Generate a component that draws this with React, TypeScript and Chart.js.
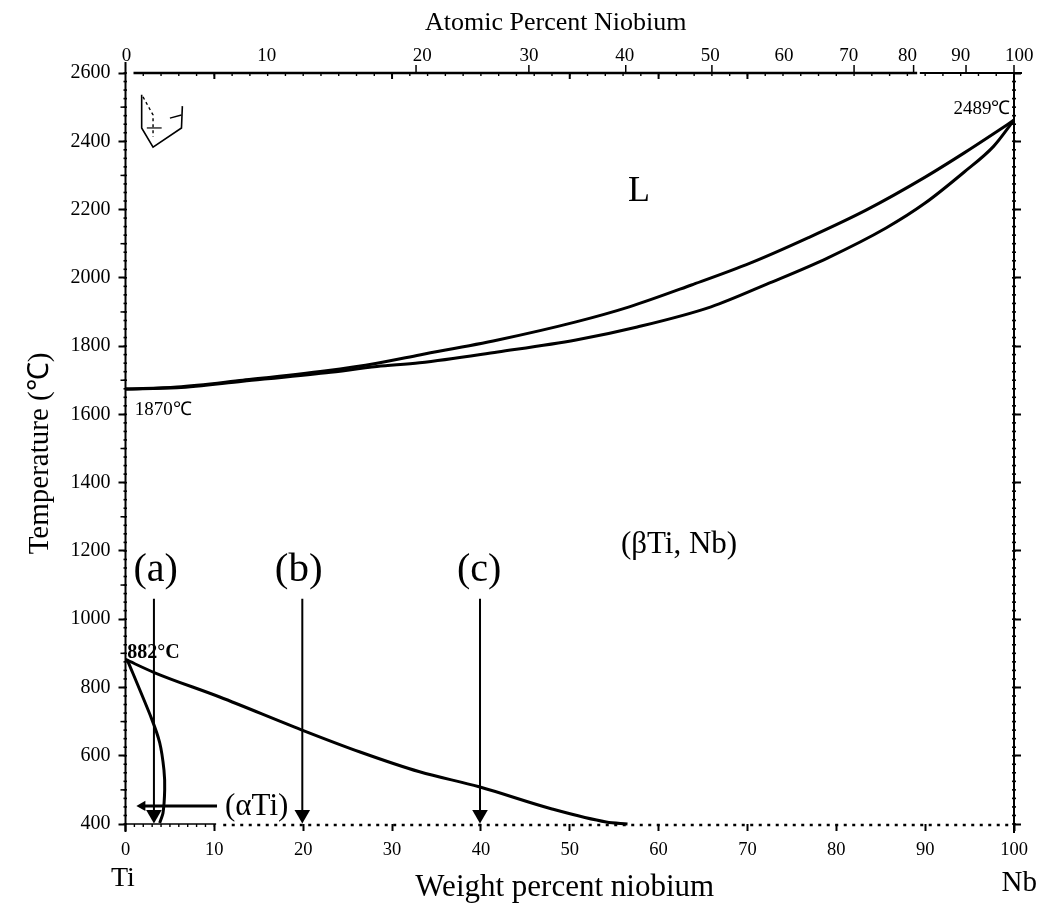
import React, { useEffect, useRef } from "react";
import { Chart, registerables } from "chart.js";

Chart.register(...registerables);

const SERIF = '"Liberation Serif", serif';

// ---- data (x = weight % Nb, y = temperature in deg C) ----
const liquidusX = [0, 5.8, 13.2, 22.6, 28.3, 33.1, 41.9, 50.7, 56.7, 63.7, 70.3, 76.8, 83.4, 90, 94.4, 97.7, 100];
const liquidusY = [1674, 1680, 1700, 1728, 1750, 1774, 1818, 1871, 1915, 1979, 2043, 2117, 2199, 2295, 2366, 2422, 2462];
const solidusX = [0, 5.8, 13.2, 22.6, 28.3, 33.1, 41.9, 50.7, 57.6, 65.9, 72.5, 79, 85.6, 90, 94.4, 97.7, 100];
const solidusY = [1674, 1678, 1697, 1722, 1740, 1751, 1783, 1818, 1856, 1915, 1985, 2058, 2146, 2219, 2310, 2385, 2462];
const betaSolvusX = [0, 3.3, 10.6, 19.8, 26.4, 33.1, 39.8, 48, 54.1, 56.5];
const betaSolvusY = [882, 843, 772, 676, 611, 553, 509, 444, 406, 400];
const alphaSolvusX = [0.2, 2.9, 3.85, 4.33, 4.41, 4.22, 3.85];
const alphaSolvusY = [881, 711, 638, 558, 500, 432, 403];

const arrowAX = [3.2, 3.2];
const arrowBX = [19.9, 19.9];
const arrowCX = [39.9, 39.9];
const arrowY = [1060, 428];
const alphaArrowX = [10.3, 1.9];
const alphaArrowY = [453, 453];

const iconOutlineX = [1.82, 1.82, 3.1, 6.3, 6.4];
const iconOutlineY = [2536, 2439, 2383, 2439, 2503];
const iconDashX = [1.97, 3.1, 3.1];
const iconDashY = [2530, 2477, 2413];
const iconCrossX = [2.4, 4.07];
const iconCrossY = [2439, 2439];
const iconMarkX = [5, 6.3];
const iconMarkY = [2468, 2477];

// ---- axes ----
const atomicLabels = ["0", "10", "20", "30", "40", "50", "60", "70", "80", "90", "100"];
const atomicLabelAtWeight = [0.1, 15.9, 33.4, 45.4, 56.2, 65.8, 74.1, 81.4, 88, 94, 100.6];
const atomicTickAtWeight = [32.7, 45.4, 56.3, 66, 82, 88.7, 94.6, 100];
const topInnerTicks = [10, 30, 50, 60, 70];

const toPairs = (xs: number[], ys: number[]) => xs.map((x, i) => ({ x, y: ys[i] }));
const steps = (a: number, b: number, s: number) => {
  const out: number[] = [];
  for (let v = a; v <= b; v += s) out.push(v);
  return out;
};

const notes = [
  { text: "L", x: 57.8, y: 2254, size: 36, align: "center" },
  { text: "(βTi, Nb)", x: 62.3, y: 1217, size: 31, align: "center" },
  { text: "(a)", x: 3.4, y: 1142, size: 40, align: "center" },
  { text: "(b)", x: 19.5, y: 1142, size: 41, align: "center" },
  { text: "(c)", x: 39.8, y: 1142, size: 40, align: "center" },
  { text: "(αTi)", x: 11.2, y: 449, size: 31, align: "left" },
  { text: "2489℃", x: 99.6, y: 2495, size: 19, align: "right" },
  { text: "1870℃", x: 1.05, y: 1612, size: 19, align: "left" },
  { text: "882°C", x: 0.2, y: 900, size: 20, align: "left", weight: "bold" },
  { text: "Ti", x: -0.3, y: 240, size: 28, align: "center" },
  { text: "Nb", x: 100.6, y: 225, size: 29, align: "center" },
];

const frame = {
  id: "frame",
  afterLayout(chart: any) {
    const { x, x2, y } = chart.scales;
    x.left -= 5; x.right -= 5;
    x2.left -= 28;
    y.top += 10;
  },
  afterDraw(chart: any) {
    const { ctx, scales } = chart;
    const { x, y } = scales;
    const X = (v: number) => x.getPixelForValue(v);
    const Y = (v: number) => y.getPixelForValue(v);
    ctx.save();
    ctx.strokeStyle = "#000";
    ctx.lineCap = "butt";
    const seg = (a: number, b: number, c: number, d: number, w: number, dash: number[] = []) => {
      ctx.lineWidth = w;
      ctx.setLineDash(dash);
      ctx.beginPath();
      ctx.moveTo(a, b);
      ctx.lineTo(c, d);
      ctx.stroke();
    };
    const top = Y(2600), bot = Y(400), l = X(0), r = X(100);
    // frame
    seg(l, top - 11, l, bot + 8, 2);
    seg(r, top, r, bot + 9, 2);
    seg(X(0.9), top, X(89.1), top, 2.5);
    seg(X(89.4), top, X(100.9), top, 2);
    seg(l, bot, X(10.2), bot, 1.6);
    seg(X(11), bot + 1, r - 4, bot + 1, 2.4, [3, 5.5]);
    // top axis marks
    atomicTickAtWeight.forEach((v) => seg(X(v), top, X(v), top - 8, 1.5));
    topInnerTicks.forEach((v) => seg(X(v), top, X(v), top + 6, 2));
    steps(2, 98, 2).forEach((v) => seg(X(v), top, X(v), top + 3, 1.4));
    // left and right axis marks
    steps(400, 2600, 25).forEach((v) => {
      seg(l - 2, Y(v), l + 1.5, Y(v), 1.6);
      seg(r - 2, Y(v), r + 2, Y(v), 1.6);
    });
    steps(500, 2500, 200).forEach((v) => seg(l - 5, Y(v), l, Y(v), 1.5));
    // bottom axis marks
    steps(1, 10, 1).forEach((v) => seg(X(v), bot, X(v), bot + 3, 1.4));
    ctx.setLineDash([]);
    // notes
    ctx.fillStyle = "#000";
    ctx.textBaseline = "middle";
    notes.forEach((n) => {
      ctx.font = `${n.weight || "normal"} ${n.size}px ${SERIF}`;
      ctx.textAlign = n.align;
      ctx.fillText(n.text, X(n.x), Y(n.y));
    });
    ctx.restore();
  },
};

const curve = (label: string, xs: number[], ys: number[], width = 3, tension = 0.3) => ({
  label,
  data: toPairs(xs, ys),
  showLine: true,
  borderColor: "#000",
  backgroundColor: "#000",
  borderWidth: width,
  pointRadius: 0,
  tension,
  clip: false,
});

const smooth = (label: string, xs: number[], ys: number[]) => ({
  ...curve(label, xs, ys),
  cubicInterpolationMode: "monotone",
});

const arrow = (label: string, xs: number[], ys: number[], rotation: number, size: number, width = 2) => ({
  label,
  data: toPairs(xs, ys),
  showLine: true,
  borderColor: "#000",
  backgroundColor: "#000",
  borderWidth: width,
  pointStyle: "triangle",
  pointRotation: rotation,
  pointRadius: [0, size],
  pointBorderWidth: 0,
  clip: false,
});

const plainTick = (v: any) => String(v);

export default function App() {
  const ref = useRef<HTMLCanvasElement>(null);
  useEffect(() => {
    const chart = new Chart(ref.current!, {
      type: "scatter",
      data: {
        datasets: [
          smooth("Liquidus", liquidusX, liquidusY),
          smooth("Solidus", solidusX, solidusY),
          smooth("β solvus", betaSolvusX, betaSolvusY),
          curve("α solvus", alphaSolvusX, alphaSolvusY, 3, 0.2),
          arrow("Arrow a", arrowAX, arrowY, 180, 9),
          arrow("Arrow b", arrowBX, arrowY, 180, 9),
          arrow("Arrow c", arrowCX, arrowY, 180, 9),
          arrow("Arrow αTi", alphaArrowX, alphaArrowY, -90, 6, 3),
          curve("Icon outline", iconOutlineX, iconOutlineY, 1.6, 0),
          { ...curve("Icon dash", iconDashX, iconDashY, 1.4, 0), borderDash: [3, 3] },
          curve("Icon cross", iconCrossX, iconCrossY, 1.2, 0),
          curve("Icon mark", iconMarkX, iconMarkY, 1.4, 0),
        ],
      },
      options: {
        animation: false,
        responsive: false,
        layout: { padding: 0 },
        plugins: { legend: { display: false }, tooltip: { enabled: false } },
        scales: {
          x: {
            type: "linear",
            position: "bottom",
            min: 0,
            max: 100,
            border: { display: false },
            grid: { drawOnChartArea: false, tickLength: 7, tickColor: "#000", tickWidth: 2 },
            ticks: { stepSize: 10, color: "#000", font: { family: SERIF, size: 18.5 }, padding: 8, maxRotation: 0, autoSkip: false, callback: plainTick },
            title: { display: true, text: "Weight percent niobium", color: "#000", font: { family: SERIF, size: 31 }, padding: { top: 0, bottom: 1 } },
            afterFit: (s: any) => { s.height = 83; },
          },
          x2: {
            type: "linear",
            axis: "x",
            position: "top",
            min: 0,
            max: 100,
            border: { display: false },
            grid: { display: false, drawTicks: false },
            afterBuildTicks: (s: any) => { s.ticks = atomicLabelAtWeight.map((value) => ({ value })); },
            ticks: { color: "#000", font: { family: SERIF, size: 19 }, padding: 6, maxRotation: 0, autoSkip: false, callback: (_v: any, i: number) => atomicLabels[i] },
            title: { display: true, text: "Atomic Percent Niobium", color: "#000", font: { family: SERIF, size: 26 }, padding: { top: 8, bottom: 0 } },
            afterFit: (s: any) => { s.height = 73; },
          },
          y: {
            type: "linear",
            position: "left",
            min: 400,
            max: 2600,
            border: { display: false },
            grid: { drawOnChartArea: false, tickLength: 7, tickColor: "#000", tickWidth: 2 },
            ticks: { stepSize: 200, color: "#000", font: { family: SERIF, size: 20 }, padding: 8, callback: plainTick },
            title: { display: true, text: "Temperature (℃)", color: "#000", font: { family: SERIF, size: 29 }, padding: { top: 23, bottom: 0 } },
            afterFit: (s: any) => { s.width = 125.5; },
          },
          y2: {
            type: "linear",
            axis: "y",
            position: "right",
            min: 400,
            max: 2600,
            border: { display: false },
            grid: { drawOnChartArea: false, tickLength: 7, tickColor: "#000", tickWidth: 2 },
            ticks: { stepSize: 200, display: false },
            afterFit: (s: any) => { s.width = 36; },
          },
        },
      },
      plugins: [frame],
    } as any);
    return () => chart.destroy();
  }, []);
  return (
    <canvas
      ref={ref}
      width={1050}
      height={907}
      style={{ position: "absolute", left: 0, top: 0, width: 1050, height: 907, filter: "blur(0.45px)" }}
    />
  );
}
